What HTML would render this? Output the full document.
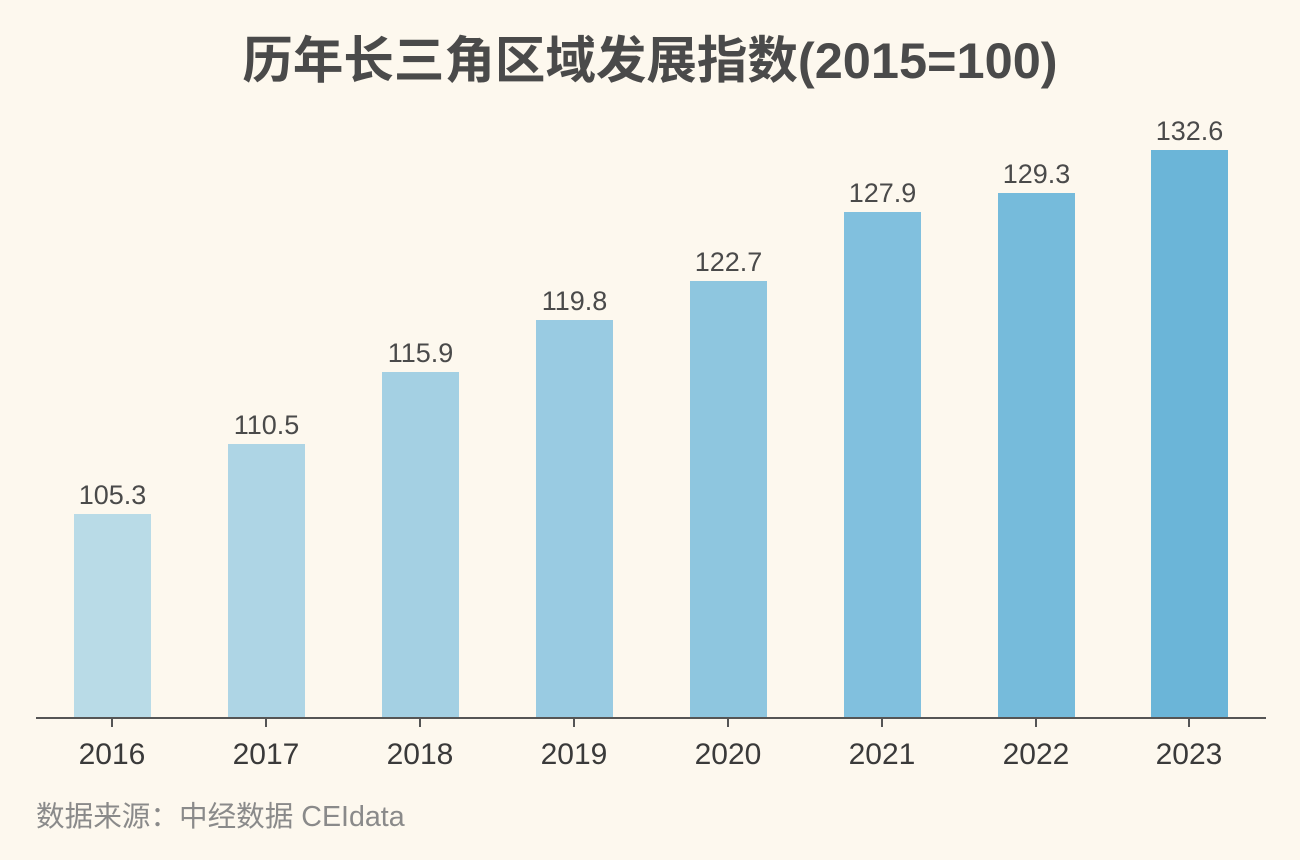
<!DOCTYPE html>
<html><head><meta charset="utf-8"><style>
html,body{margin:0;padding:0;background:#fdf8ee;}
</style></head><body>
<svg width="1300" height="860" xmlns="http://www.w3.org/2000/svg" style="display:block">
<rect width="1300" height="860" fill="#fdf8ee"/>
<text x="650" y="78" text-anchor="middle" font-family="'Liberation Sans','Noto Sans CJK SC',sans-serif" font-size="50.5" font-weight="bold" fill="#4a4a4a">历年长三角区域发展指数(2015=100)</text>
<g font-family="'Liberation Sans','Noto Sans CJK SC',sans-serif" font-size="27" fill="#4a4a4a" text-anchor="middle">
<rect x="74" y="514" width="77" height="204" fill="#b9dbe7"/><text x="112.5" y="504">105.3</text>
<rect x="228" y="444" width="77" height="274" fill="#aed5e5"/><text x="266.5" y="434">110.5</text>
<rect x="382" y="372" width="77" height="346" fill="#a4d0e3"/><text x="420.5" y="362">115.9</text>
<rect x="536" y="320" width="77" height="398" fill="#99cbe2"/><text x="574.5" y="310">119.8</text>
<rect x="690" y="281" width="77" height="437" fill="#8ec6df"/><text x="728.5" y="271">122.7</text>
<rect x="844" y="212" width="77" height="506" fill="#81c0de"/><text x="882.5" y="202">127.9</text>
<rect x="998" y="193" width="77" height="525" fill="#76bbdb"/><text x="1036.5" y="183">129.3</text>
<rect x="1151" y="150" width="77" height="568" fill="#6bb5d8"/><text x="1189.5" y="140">132.6</text>
</g>
<line x1="36" y1="718" x2="1266" y2="718" stroke="#555" stroke-width="2"/>
<g stroke="#555" stroke-width="2">
<line x1="112" y1="718" x2="112" y2="727"/><line x1="266" y1="718" x2="266" y2="727"/><line x1="420" y1="718" x2="420" y2="727"/><line x1="574" y1="718" x2="574" y2="727"/><line x1="728" y1="718" x2="728" y2="727"/><line x1="882" y1="718" x2="882" y2="727"/><line x1="1036" y1="718" x2="1036" y2="727"/><line x1="1189" y1="718" x2="1189" y2="727"/>
</g>
<g font-family="'Liberation Sans','Noto Sans CJK SC',sans-serif" font-size="30" fill="#3a3a3a" text-anchor="middle">
<text x="112" y="764">2016</text><text x="266" y="764">2017</text><text x="420" y="764">2018</text><text x="574" y="764">2019</text><text x="728" y="764">2020</text><text x="882" y="764">2021</text><text x="1036" y="764">2022</text><text x="1189" y="764">2023</text>
</g>
<text x="36" y="826" font-family="'Liberation Sans','Noto Sans CJK SC',sans-serif" font-size="28.6" fill="#8a8a8a">数据来源：中经数据 CEIdata</text>
</svg>
</body></html>
